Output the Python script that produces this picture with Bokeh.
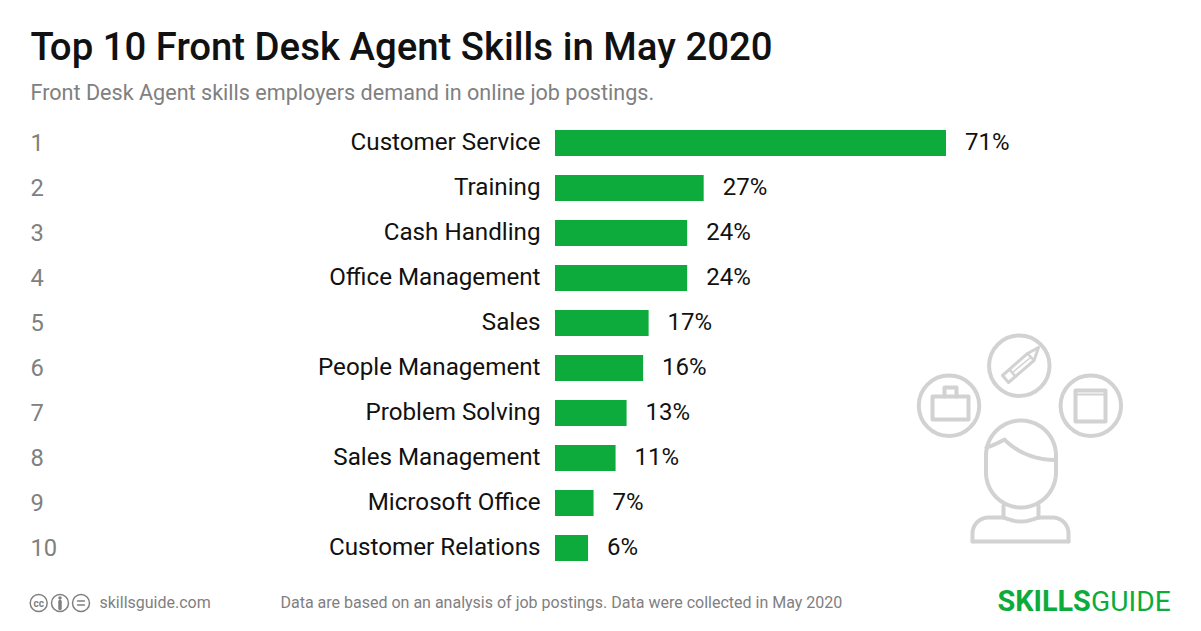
import numpy as np
from bokeh.plotting import figure
from bokeh.models import Range1d
from bokeh.core.properties import value
from bokeh.embed import file_html
from bokeh.resources import INLINE

ranks = [1, 2, 3, 4, 5, 6, 7, 8, 9, 10]
skills = ["Customer Service", "Training", "Cash Handling", "Office Management", "Sales",
          "People Management", "Problem Solving", "Sales Management", "Microsoft Office", "Customer Relations"]
shares = [71, 27, 24, 24, 17, 16, 13, 11, 7, 6]
title_text = "Top 10 Front Desk Agent Skills in May 2020"
subtitle_text = "Front Desk Agent skills employers demand in online job postings."
note_text = "Data are based on an analysis of job postings. Data were collected in May 2020"
site_text = "skillsguide.com"

GREEN = "#0dab3c"
GREY = "#808080"
ICON = "#d2d2d2"
W, H = 1201, 631
PXU = (946 - 555) / 71      # pixels per percentage point
PXR = 45                    # pixels per rank
UP = 1 / PXR                # texts sit one pixel above the bar centre
ORIGIN = 554.5              # pixel column of the zero of the bars

p = figure(width=W, height=H, output_backend="svg", toolbar_location=None,
           x_range=Range1d(-ORIGIN / PXU, (W - ORIGIN) / PXU),
           y_range=Range1d(1 + (H - 142.5) / PXR, 1 - 142.5 / PXR),
           min_border=0, outline_line_color=None, x_axis_type=None, y_axis_type=None)
p.grid.visible = False
p.extra_x_ranges["px"] = Range1d(0, W)
p.extra_y_ranges["px"] = Range1d(H, 0)
PX = dict(x_range_name="px", y_range_name="px")
R = value("Roboto")
text_y = [r - UP for r in ranks]

# bars and their texts
p.hbar(y=ranks, left=0, right=shares, height=26 / PXR, fill_color=GREEN, line_color=None)
p.text(x=[-14.5 / PXU] * 10, y=text_y, text=skills, text_font=R, text_font_size="24.2px", text_color="#111111",
       text_align="right", text_baseline="middle")
p.text(x=[s + 19 / PXU for s in shares], y=text_y, text=[f"{s}%" for s in shares], text_font=R,
       text_font_size="24px", text_color="#111111", text_align="left", text_baseline="middle")
p.text(x=[30] * 10, y=text_y, text=[str(r) for r in ranks], text_font=R, text_font_size="23.7px",
       text_color=GREY, text_align="left", text_baseline="middle", x_range_name="px")


def txt(x, y, s, size, color, style="normal", align="left", font=R):
    p.text(x=[x], y=[y], text=[s], text_font=font, text_font_size=size, text_color=color,
           text_font_style=style, text_align=align, text_baseline="middle", **PX)


txt(30, 46, title_text, "38.3px", "#111111", font=value("Roboto Medium"))
txt(30, 92, subtitle_text, "21.6px", GREY)
txt(99, 602.4, site_text, "16px", GREY)
txt(280, 602.4, note_text, "16px", GREY)
txt(997, 600.5, "SKILLS", "28.8px", GREEN, "bold")
txt(1090.5, 600.5, "GUIDE", "28.2px", GREEN)


# illustration helpers
def arc(cx, cy, r, a0, a1):
    t = np.radians(np.linspace(a0, a1, 40))
    return list(cx + r * np.cos(t)), list(cy + r * np.sin(t))


def path(xs, ys, color=ICON, w=4):
    p.line(xs, ys, line_color=color, line_width=w, line_join="round", line_cap="round", **PX)


def ring(cx, cy, d, color=ICON, w=4):
    p.scatter([cx], [cy], marker="circle", size=d, fill_color=None, line_color=color, line_width=w, **PX)


for cx, cy in [(1018.8, 365.2), (948.5, 405.2), (1090.3, 405.2)]:
    ring(cx, cy, 60.5)

# head
ax, ay = arc(1020.5, 455, 35, 180, 360)
bx, by = arc(1020.5, 472, 35, 0, 180)
path(ax + bx + ax[:1], ay + by + ay[:1])
# fringe
t = np.linspace(0, 1, 30)
fx = (1 - t) ** 2 * 986 + 2 * t * (1 - t) * 993 + t ** 2 * 1004
fy = (1 - t) ** 2 * 447 + 2 * t * (1 - t) * 445 + t ** 2 * 439
gx = (1 - t) ** 2 * 1004 + 2 * t * (1 - t) * 1024 + t ** 2 * 1055
gy = (1 - t) ** 2 * 439 + 2 * t * (1 - t) * 459 + t ** 2 * 459.5
path(list(fx) + list(gx), list(fy) + list(gy))
# neck
path([1003, 1003] + list(np.linspace(1003, 1038, 20)),
     [505, 517] + list(517 + 4 * np.sin(np.linspace(0, np.pi, 20))))
path([1038, 1038], [505, 517])
# shoulders
lx, ly = arc(988, 533, 16, 180, 270)
rx, ry = arc(1052, 533, 16, 270, 360)
path([972] + lx + [1003], [541] + ly + [517])
path([1038] + rx + [1068], [517] + ry + [541])
path([972, 1068], [541, 541])
# briefcase
path([932, 968, 968, 932, 932], [396, 396, 419, 419, 396], w=4)
path([944, 944, 956, 956], [396, 387, 387, 396], w=4)
# window
path([1075, 1105, 1105, 1075, 1075], [390, 390, 421, 421, 390], w=4)
path([1075, 1105], [394, 394], w=2)
# pencil
path([1038, 1027, 1002, 1008, 1033.5, 1038], [347, 353, 375, 382, 360, 347], w=3)
path([1027, 1033.5], [353, 360], w=2.5)
path([1009, 1015], [369, 376], w=2.5)
path([1012, 1030], [372, 357], w=1.5)

# licence badges
ring(38.2, 602.5, 17, GREY, 1.5)
ring(59.5, 602.5, 17, GREY, 1.5)
ring(80.5, 602.5, 17, GREY, 1.5)
txt(38.2, 602.5, "cc", "10px", GREY, "bold", "center")
p.scatter([59.5], [597.5], marker="circle", size=3.5, fill_color=GREY, line_color=None, **PX)
path([59.5, 59.5], [601, 608], GREY, 3.5)
path([77, 84], [600.5, 600.5], GREY, 1.3)
path([77, 84], [604.5, 604.5], GREY, 1.3)

open("out.html", "w").write(file_html(p, INLINE))
